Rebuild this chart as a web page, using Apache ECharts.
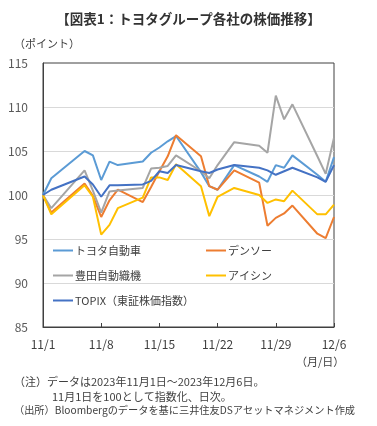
<!DOCTYPE html>
<html>
<head>
<meta charset="utf-8">
<script src="https://cdn.jsdelivr.net/npm/echarts@6/dist/echarts.min.js"></script>
<style>
  html, body { margin: 0; padding: 0; background: #fff; }
  #chart { width: 377px; height: 426px; }
</style>
</head>
<body>
<div id="chart"></div>
<script>
// 営業日
const dates = [
  "2023-11-01", "2023-11-02", "2023-11-06", "2023-11-07", "2023-11-08", "2023-11-09",
  "2023-11-10", "2023-11-13", "2023-11-14", "2023-11-15", "2023-11-16", "2023-11-17",
  "2023-11-20", "2023-11-21", "2023-11-22", "2023-11-24", "2023-11-27", "2023-11-28",
  "2023-11-29", "2023-11-30", "2023-12-01", "2023-12-04", "2023-12-05", "2023-12-06"
];

// 目盛ラベル（7日ごと）
const tickLabels = ["11/1", "11/8", "11/15", "11/22", "11/29", "12/6"];

// 各社の指数（11/1 = 100）
const toyota = [100, 101.9, 105.0, 104.5, 101.7, 103.8, 103.4, 103.8, 104.8, 105.4, 106.1, 106.7,
  102.6, 101.0, 100.6, 103.4, 102.1, 101.5, 103.4, 103.1, 104.5, 102.3, 101.5, 104.3];
const denso = [100, 98.0, 101.3, 99.9, 97.5, 99.4, 100.6, 99.2, 100.9, 102.7, 104.4, 106.8,
  104.4, 101.0, 100.6, 102.8, 101.4, 96.5, 97.4, 97.9, 98.8, 95.6, 95.1, 97.5];
const toyotaIndustries = [100, 98.5, 102.8, 100.5, 98.0, 100.4, 100.5, 100.8, 103.0, 103.1, 103.3, 104.5,
  102.7, 101.9, 103.4, 106.0, 105.6, 104.8, 111.3, 108.6, 110.3, 104.4, 102.4, 106.5];
const aisin = [100, 97.8, 101.1, 99.8, 95.5, 96.6, 98.5, 99.7, 102.0, 102.0, 101.7, 103.5,
  101.0, 97.6, 99.8, 100.8, 100.0, 99.1, 99.5, 99.3, 100.5, 97.8, 97.8, 98.9];
const topix = [100, 100.6, 102.1, 101.2, 99.8, 101.1, 101.1, 101.2, 101.6, 102.7, 102.5, 103.4,
  102.7, 102.5, 102.9, 103.4, 103.1, 102.8, 102.3, 102.7, 103.1, 102.0, 101.5, 103.4];

const names = ["トヨタ自動車", "デンソー", "豊田自動織機", "アイシン", "TOPIX（東証株価指数）"];
const colors = ["#5B9BD5", "#ED7D31", "#A5A5A5", "#FFC000", "#4472C4"];
const valuesList = [toyota, denso, toyotaIndustries, aisin, topix];

const FONT = "'Noto Sans CJK JP', 'Noto Sans', sans-serif";

// 11/1からの日数
const dayOffset = (d) => (Date.parse(d) - Date.parse(dates[0])) / 86400000;

const seriesList = names.map((name, k) => ({
  name,
  type: "line",
  symbol: "none",
  color: colors[k],
  lineStyle: { width: 2 },
  data: dates.map((d, i) => [dayOffset(d), valuesList[k][i]]),
}));

const legendBase = {
  orient: "vertical",
  top: 240,
  itemGap: 14,
  itemWidth: 20,
  itemHeight: 2,
  icon: "rect",
  textStyle: { fontFamily: FONT, fontSize: 11, color: "#404040", padding: [0, 0, 0, -3] },
};

const myChart = echarts.init(document.getElementById("chart"));

const option = {
  animation: false,
  textStyle: { fontFamily: FONT },
  title: {
    text: "【図表1：トヨタグループ各社の株価推移】",
    left: "center",
    top: 7,
    textStyle: { fontFamily: FONT, fontSize: 13.5, fontWeight: "bold", color: "#333" },
  },
  grid: {
    left: 43,
    right: 43,
    top: 63,
    bottom: 99,
    show: true,
    borderColor: "#404040",
    borderWidth: 1,
  },
  legend: [
    Object.assign({}, legendBase, { data: [names[0], names[2], names[4]], left: 48 }),
    Object.assign({}, legendBase, { data: [names[1], names[3]], left: 201 }),
  ],
  xAxis: {
    type: "value",
    min: 0,
    max: 35,
    interval: 7,
    axisLine: { show: true, lineStyle: { color: "#404040" } },
    axisTick: { show: true, inside: true, length: 4, lineStyle: { color: "#404040" } },
    splitLine: { show: false },
    axisLabel: {
      margin: 11,
      fontSize: 12,
      color: "#404040",
      formatter: (v) => tickLabels[Math.round(v / 7)],
    },
  },
  yAxis: {
    type: "value",
    min: 85,
    max: 115,
    interval: 5,
    axisLine: { show: true, lineStyle: { color: "#404040" } },
    axisTick: { show: false },
    splitLine: { show: true, showMinLine: false, showMaxLine: false, lineStyle: { color: "#D9D9D9" } },
    axisLabel: { margin: 15, fontSize: 12, color: "#595959" },
  },
  graphic: [
    { type: "text", left: 14, top: 38, style: { text: "（ポイント）", font: "11px " + FONT, fill: "#404040" } },
    { type: "text", left: 296, top: 356, style: { text: "（月/日）", font: "11px " + FONT, fill: "#404040" } },
    { type: "text", left: 14, top: 376, style: { text: "（注）データは2023年11月1日～2023年12月6日。", font: "11px " + FONT, fill: "#404040" } },
    { type: "text", left: 52, top: 391, style: { text: "11月1日を100として指数化、日次。", font: "11px " + FONT, fill: "#404040" } },
    { type: "text", left: 14, top: 405, style: { text: "（出所）Bloombergのデータを基に三井住友DSアセットマネジメント作成", font: "10.2px " + FONT, fill: "#404040" } },
  ],
  series: seriesList,
};

myChart.setOption(option);
</script>
</body>
</html>
